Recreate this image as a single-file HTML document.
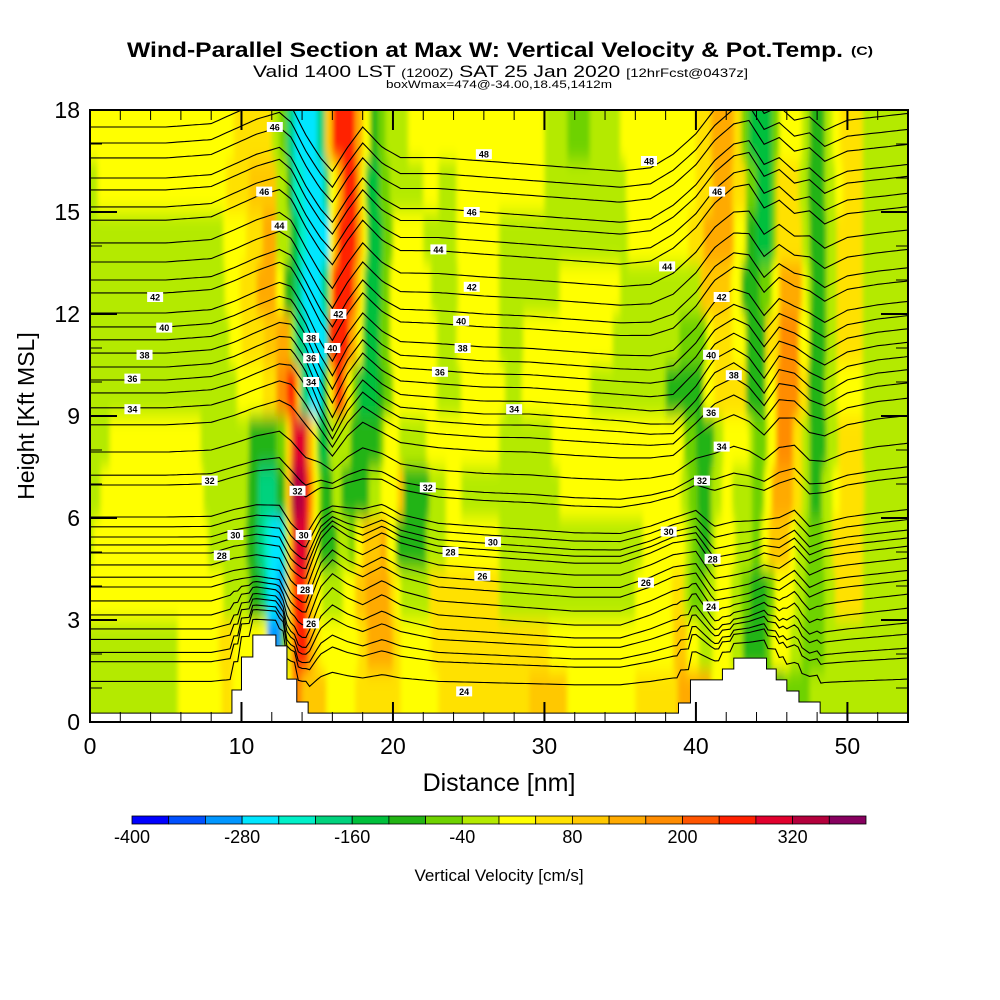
<!DOCTYPE html>
<html><head><meta charset="utf-8"><style>
html,body{margin:0;padding:0;background:#fff;}
svg{display:block;font-family:"Liberation Sans",sans-serif;}
</style></head><body>
<svg id="chart" width="1000" height="1000" viewBox="0 0 1000 1000">
<defs>
<clipPath id="plotClip"><rect x="90" y="110" width="818" height="612"/></clipPath>
<filter id="soft" x="-5%" y="-5%" width="110%" height="110%"><feGaussianBlur stdDeviation="2.5 9"/></filter>
</defs>
<g>
<text x="127" y="57" font-size="21" font-weight="bold" textLength="716" lengthAdjust="spacingAndGlyphs">Wind-Parallel Section at Max W: Vertical Velocity &amp; Pot.Temp.</text>
<text x="851" y="55" font-size="12" font-weight="bold" textLength="22" lengthAdjust="spacingAndGlyphs">(C)</text>
<text x="253" y="77" font-size="17" textLength="495" lengthAdjust="spacingAndGlyphs">Valid 1400 LST <tspan font-size="12">(1200Z)</tspan> SAT 25 Jan 2020 <tspan font-size="12">[12hrFcst@0437z]</tspan></text>
<text x="386" y="88" font-size="11" textLength="226" lengthAdjust="spacingAndGlyphs">boxWmax=474@-34.00,18.45,1412m</text>
</g>
<g id="field" clip-path="url(#plotClip)"><g id="cells" filter="url(#soft)"></g></g>
<g id="contours" clip-path="url(#plotClip)"></g>
<g id="terrain"></g>
<g id="labels" clip-path="url(#plotClip)"></g>
<g id="axes"></g>
<g id="colorbar"></g>
<text x="0" y="0" transform="translate(34,416) rotate(-90)" font-size="23" text-anchor="middle">Height [Kft MSL]</text>
<text x="499" y="791" font-size="25" text-anchor="middle">Distance [nm]</text>
<text x="499" y="881" font-size="17" text-anchor="middle">Vertical Velocity [cm/s]</text>
</svg>
<script>
const levelColors=["#0000ff","#0050ff","#0096ff","#00e6ff","#00f0c8","#00d27d","#00c03c","#22b414","#6ed200","#b4ea00","#ffff00","#ffe100","#ffc800","#ffaa00","#ff8c00","#ff5500","#ff2000","#e1002d","#b4003c","#87005f"];
const colorbarTicks=[-400,-280,-160,-40,80,200,320];
const yTicks=[0,3,6,9,12,15,18];
const xTicks=[0,10,20,30,40,50];
// vertical velocity rows (top to bottom), run-length [end nm, level]
const wRow0=[[9.5,10],[12,11],[12.5,9],[13,8],[13.5,5],[15,3],[15.5,5],[16,12],[17.5,16],[18,13],[18.5,10],[19,7],[19.5,8],[21,9],[30,10],[31.5,9],[33,8],[35,9],[40,10],[41,11],[42.5,13],[43,11],[43.5,8],[45,6],[45.5,8],[47,10],[47.5,9],[48.5,7],[49,9],[49.5,10],[51,11],[54,9]];
const wRow1=[[0.5,9],[9,10],[10.5,11],[12.3,12],[13,9],[13.4,7],[14.1,4],[15.4,3],[15.8,5],[16.3,10],[16.7,13],[17.6,16],[17.9,13],[18.2,10],[19.1,6],[19.8,8],[22,9],[23,10],[24.2,9],[30,10],[35.4,9],[40,10],[41.1,11],[42.4,13],[43.3,11],[44,8],[45,6],[45.3,8],[46.8,11],[47.4,9],[48.5,7],[49.2,9],[49.7,10],[51,11],[54,9]];
const wRow2=[[8.8,9],[10.3,10],[11.4,11],[12.3,13],[13.2,9],[13.8,6],[14.3,4],[15.8,3],[16.1,10],[16.4,13],[17.6,16],[18,13],[18.3,10],[19.3,6],[20,8],[22,10],[24.2,9],[27,10],[35.5,9],[39.5,10],[40.5,11],[42.5,13],[43.3,10],[44,7],[45,6],[45.3,8],[47,11],[47.5,9],[48.6,7],[49.3,9],[51,11],[54,9]];
const wRow3=[[8.9,9],[9.9,10],[11,11],[12.3,13],[12.8,10],[13.5,7],[14,5],[15.3,3],[15.8,5],[16,11],[17.4,16],[17.8,13],[18.1,10],[19.2,6],[19.8,8],[22.5,10],[24.3,9],[27,10],[31,9],[35,10],[40.3,9],[42.3,12],[43,10],[44.2,7],[45,8],[45.5,10],[47,13],[47.3,10],[47.6,9],[48.6,7],[49.3,9],[51,11],[54,9]];
const wRow4=[[9.2,9],[10,10],[11.5,11],[12.3,12],[13.2,13],[13.5,9],[14.3,5],[15.6,3],[15.8,6],[17.1,16],[17.6,13],[18,10],[19.1,6],[19.8,8],[22.9,10],[24.2,9],[27,10],[28.6,9],[34.5,10],[38.9,9],[40.7,8],[41.1,10],[42.4,11],[43.3,10],[44.6,7],[45.5,11],[46.8,14],[47.5,10],[48.6,7],[49.3,9],[51,11],[54,9]];
const wRow5=[[9.7,9],[11.4,10],[12.3,11],[13,14],[13.6,16],[13.9,12],[14.5,5],[15.3,3],[15.7,6],[16,10],[16.2,13],[16.7,16],[17,13],[17.3,10],[17.7,8],[19,6],[19.4,7],[20,8],[22.9,10],[24.5,9],[27.4,10],[28.5,9],[33,10],[38,9],[40.5,7],[41.2,10],[43.3,11],[44.6,7],[45.3,10],[46.8,14],[47.4,11],[48.5,7],[49.3,9],[51,10],[54,9]];
const wRow6=[[1.3,9],[7.3,10],[10.5,9],[12.3,7],[12.9,8],[13.2,11],[13.4,14],[14.3,17],[14.7,13],[15,10],[15.8,6],[17.2,9],[19.1,7],[19.4,8],[20.4,10],[22.2,9],[27,10],[30.5,9],[39.2,10],[40,8],[41.2,7],[41.8,9],[43.5,10],[43.8,9],[44.7,8],[45.3,10],[46.4,14],[47,11],[47.5,9],[48.6,7],[49.4,9],[51,11],[54,9]];
const wRow7=[[0.7,9],[7.5,10],[10.4,9],[11.1,7],[12.3,5],[12.9,7],[13.1,11],[13.3,13],[14.2,18],[14.5,16],[14.8,13],[15.1,10],[15.3,8],[16,7],[16.6,9],[18.4,7],[19.2,9],[20.3,10],[20.7,12],[22.4,7],[23.5,9],[24.5,10],[31,9],[39,10],[39.5,9],[40.1,8],[41,7],[41.7,9],[42.4,10],[43.7,9],[44.5,8],[45,10],[46.4,13],[47,11],[47.5,9],[48.3,7],[49,9],[49.5,10],[51.1,11],[54,9]];
const wRow8=[[0.2,9],[7.8,10],[10.3,9],[11,7],[11.5,5],[11.9,4],[12.7,3],[12.9,4],[13,6],[13.2,10],[13.4,13],[14.4,17],[14.7,13],[15.1,10],[16.3,7],[17.1,9],[17.5,8],[18,10],[19.2,12],[19.6,13],[20.2,10],[22.2,7],[23.5,9],[27,10],[36.5,9],[39.3,10],[39.7,9],[40.2,8],[41,7],[41.3,9],[42.6,10],[43.7,9],[44.3,8],[44.8,10],[46.2,12],[46.6,10],[47.3,9],[48.4,8],[49,9],[51,11],[54,9]];
const wRow9=[[8.8,10],[10.5,9],[11.3,7],[11.7,5],[12.4,3],[12.8,2],[13,4],[13.4,12],[14.3,16],[14.6,13],[15,11],[15.3,10],[16.7,9],[17.5,10],[18.2,12],[19.8,13],[20.2,11],[20.5,10],[22.4,9],[27,11],[36,9],[38.4,10],[39.2,11],[39.6,9],[40.6,8],[41.3,9],[42.3,10],[43,9],[43.6,8],[44.7,7],[45.2,8],[46.5,10],[47.2,9],[48.5,8],[49.2,9],[51,11],[54,9]];
const wRow10=[[5.8,9],[8.5,10],[9.5,11],[11.7,10],[12.6,2],[13,8],[13.2,10],[13.5,13],[14.4,16],[14.8,13],[15.2,11],[17.7,10],[18.3,11],[20,13],[20.5,11],[22.5,10],[30.3,11],[38.5,10],[39.4,12],[40.2,10],[41.1,9],[42.3,10],[43.1,9],[44.6,7],[45,8],[46.2,10],[47,9],[48.5,8],[54,9]];
const wRow11=[[5.8,9],[8.7,10],[9.4,11],[13.3,10],[14,14],[15.6,12],[17.5,10],[20.5,11],[23,10],[29,11],[31.5,12],[36,10],[38.8,11],[41,13],[43.2,10],[44.6,9],[45.8,7],[47.5,8],[54,9]];
const wRows=[wRow0,wRow1,wRow2,wRow3,wRow4,wRow5,wRow6,wRow7,wRow8,wRow9,wRow10,wRow11];
// terrain steps: from x onward height h (kft)
const terrainX=[0,9.37,10.0,10.75,12.27,13.0,13.65,14.4,38.85,39.64,41.75,42.5,44.66,45.3,46.0,46.8,48.2];
const terrainH=[0.26,0.94,1.91,2.56,2.24,1.26,0.59,0.26,0.56,1.24,1.56,1.88,1.56,1.24,0.91,0.59,0.26];
// isentrope heights at left edge (kft)
const thetaBaseHeights=[17.5,17.03,16.59,16.0,15.65,15.15,14.76,14.09,13.53,13.0,12.62,12.03,11.62,11.24,10.85,10.44,10.06,9.68,9.24,8.74,7.94,7.26,6.97,6.03,5.74,5.44,5.21,4.97,4.62,4.26,3.97,3.53,3.09,2.65,2.32,1.91,1.62,1.0];
const dispX=[0,5,8,9.5,11,12.5,13.3,14.2,15.2,16,17,18,19.3,20.5,23,26,29,32,35,37,38.5,40,41.2,42.5,43.5,44.5,45.5,46.5,47.5,48.5,50,52,54];
const dispHigh=[0,0,0.1,0.4,0.7,0.9,0.6,-0.2,-0.9,-1.3,-0.6,0,-0.6,-0.9,-0.9,-1.0,-1.1,-1.2,-1.3,-1.2,-0.8,-0.2,0.5,1.0,1.1,0.4,0.6,0.2,0.3,-0.1,0.2,0.3,0.4];
const dispMid=[0,0,0.1,0.3,0.6,0.9,0.9,0.3,-0.8,-1.5,-0.6,0,-0.5,-0.8,-0.9,-1.0,-1.0,-1.1,-1.2,-1.3,-1.3,-0.6,0.2,0.5,0.2,-0.4,0.3,0.2,-0.2,-0.4,0,0.2,0.3];
const dispLow=[0,0,0,0.2,0.3,0.2,-0.5,-0.8,0.4,0.8,0.5,0.3,0.6,0.3,0.0,-0.1,-0.2,-0.3,-0.3,0.0,0.3,0.4,-0.4,-0.3,-0.2,0.0,-0.1,0.2,-0.3,-0.1,0,0.1,0.2];
const labelValues=[46,46,44,42,40,38,36,34,32,30,28,38,36,34,42,40,32,30,28,26,48,46,44,42,40,38,36,34,32,30,28,26,24,48,46,44,42,40,38,36,34,32,30,28,26,24];
const labelX=[12.2,11.5,12.5,4.3,4.9,3.6,2.8,2.8,7.9,9.6,8.7,14.6,14.6,14.6,16.4,16.0,13.7,14.1,14.2,14.6,26.0,25.2,23.0,25.2,24.5,24.6,23.1,28.0,22.3,26.6,23.8,25.9,24.7,36.9,41.4,38.1,41.7,41.0,42.5,41.0,41.7,40.4,38.2,41.1,36.7,41.0];
const labelH=[17.5,15.6,14.6,12.5,11.6,10.8,10.1,9.2,7.1,5.5,4.9,11.3,10.7,10.0,12.0,11.0,6.8,5.5,3.9,2.9,16.7,15.0,13.9,12.8,11.8,11.0,10.3,9.2,6.9,5.3,5.0,4.3,0.9,16.5,15.6,13.4,12.5,10.8,10.2,9.1,8.1,7.1,5.6,4.8,4.1,3.4];

const NS="http://www.w3.org/2000/svg";
const X0=90,X1=908,Y0=722,Y1=110;
function X(nm){return X0+nm*(X1-X0)/54;}
function Y(k){return Y0-k*(Y0-Y1)/18;}
function mk(tag,attrs,parent){const e=document.createElementNS(NS,tag);for(const k in attrs)e.setAttribute(k,attrs[k]);parent.appendChild(e);return e;}

// field cells
const cells=document.getElementById('cells');
const rowH=18/wRows.length;
wRows.forEach((row,ri)=>{
  const top=18-ri*rowH, bot=top-rowH;
  let xs=0;
  row.forEach((seg,si)=>{
    const xe=seg[0];
    let px0=X(xs),px1=X(xe),py0=Y(top),py1=Y(bot);
    if(si===0)px0-=25; if(si===row.length-1)px1+=25;
    if(ri===0)py0-=40; if(ri===wRows.length-1)py1+=40;
    const r=mk('rect',{x:px0,y:py0,width:px1-px0+0.6,height:py1-py0+0.6,fill:levelColors[seg[1]]},cells);
    
    
    xs=xe;
  });
});

function terrainAt(x){let h=terrainH[0];for(let i=0;i<terrainX.length;i++){if(x>=terrainX[i])h=terrainH[i];}return h;}
function interp(xa,ya,x){for(let i=0;i<xa.length-1;i++){if(x<=xa[i+1]){const t=(x-xa[i])/(xa[i+1]-xa[i]);return ya[i]+t*(ya[i+1]-ya[i]);}}return ya[ya.length-1];}
function disp(x,h){
  const lo=interp(dispX,dispLow,x),mi=interp(dispX,dispMid,x),hi=interp(dispX,dispHigh,x);
  if(h<=5)return lo*Math.min(1,h/3);
  if(h<=10)return lo+(mi-lo)*(h-5)/5;
  if(h<=15)return mi+(hi-mi)*(h-10)/5;
  return hi;
}
const cg=document.getElementById('contours');
thetaBaseHeights.forEach(h0=>{
  let pts=[];
  for(let x=0;x<=54.001;x+=0.25){
    const t=terrainAt(x);
    const h=h0+disp(x,h0)+t*Math.max(0,1-h0/4);
    pts.push(X(x).toFixed(1)+','+Y(h).toFixed(1));
  }
  const p=mk('polyline',{points:pts.join(' '),fill:'none',stroke:'#000','stroke-width':1.1},cg);
  
  
});

// terrain
const tg=document.getElementById('terrain');
let tp=[[X(0),Y(0)]];
for(let i=0;i<terrainX.length;i++){
  const xs=terrainX[i],xe=i<terrainX.length-1?terrainX[i+1]:54;
  tp.push([X(xs),Y(terrainH[i])]);tp.push([X(xe),Y(terrainH[i])]);
}
tp.push([X(54),Y(0)]);
const terr=mk('polygon',{points:tp.map(p=>p.join(',')).join(' '),fill:'#fff',stroke:'#000','stroke-width':1},tg);



// contour labels
const lg=document.getElementById('labels');
labelValues.forEach((v,i)=>{
  const cx=X(labelX[i]),cy=Y(labelH[i]);
  const r=mk('rect',{x:cx-8,y:cy-5,width:16,height:10,fill:'#fff'},lg);
  
  
  const t=mk('text',{x:cx,y:cy+3.5,'font-size':9,'font-weight':'bold','text-anchor':'middle'},lg);
  t.textContent=v;
  
  
});

// axes
const ag=document.getElementById('axes');
const frame=mk('rect',{x:X0,y:Y1,width:X1-X0,height:Y0-Y1,fill:'none',stroke:'#000','stroke-width':2},ag);


for(let k=0;k<=18;k++){
  const major=k%3===0,len=major?27:12,y=Y(k);
  const a=mk('line',{x1:X0,y1:y,x2:X0+len,y2:y,stroke:'#000','stroke-width':major?2:1},ag);
  
  
  const b=mk('line',{x1:X1,y1:y,x2:X1-len,y2:y,stroke:'#000','stroke-width':major?2:1},ag);
  
  
}
yTicks.forEach(v=>{
  const t=mk('text',{x:80,y:Y(v)+8,'font-size':23,'text-anchor':'end'},ag);
  t.textContent=v;
  
  
});
for(let n=0;n<=54;n+=2){
  const major=n%10===0,len=major?20:10,x=X(n);
  const a=mk('line',{x1:x,y1:Y0,x2:x,y2:Y0-len,stroke:'#000','stroke-width':major?2:1},ag);
  
  
  const b=mk('line',{x1:x,y1:Y1,x2:x,y2:Y1+len,stroke:'#000','stroke-width':major?2:1},ag);
  
  
}
xTicks.forEach(v=>{
  const t=mk('text',{x:X(v),y:754,'font-size':23,'text-anchor':'middle'},ag);
  t.textContent=v;
  
  
});

// colorbar
const cb=document.getElementById('colorbar');
const CB0=132,CB1=866,binW=(CB1-CB0)/levelColors.length;
levelColors.forEach((c,i)=>{
  const r=mk('rect',{x:CB0+i*binW,y:816,width:binW,height:8,fill:c,stroke:'#000','stroke-width':0.8},cb);
  
  
});
colorbarTicks.forEach(v=>{
  const t=mk('text',{x:CB0+(v+400)/800*(CB1-CB0),y:843,'font-size':18,'text-anchor':'middle'},cb);
  t.textContent=v;
  
  
});
</script>
</body></html>
